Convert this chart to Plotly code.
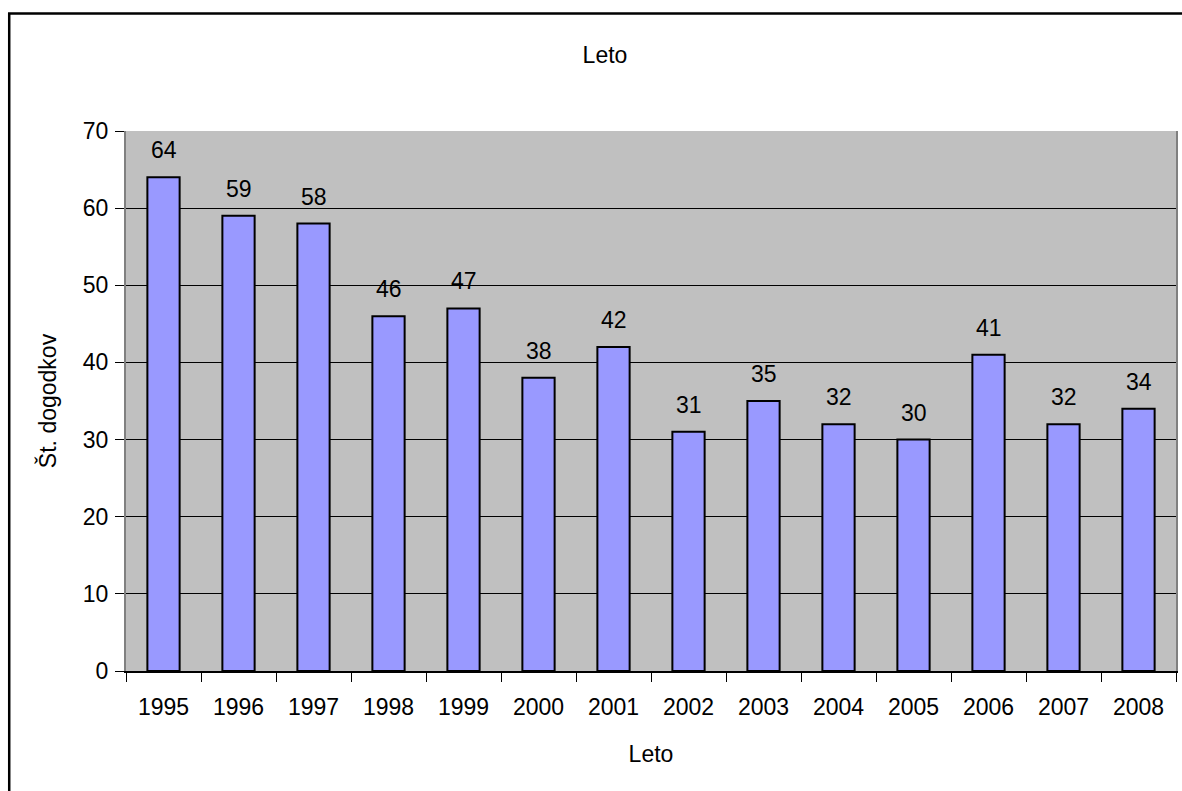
import plotly.graph_objects as go

years = ["1995", "1996", "1997", "1998", "1999", "2000", "2001",
         "2002", "2003", "2004", "2005", "2006", "2007", "2008"]
counts = [64, 59, 58, 46, 47, 38, 42, 31, 35, 32, 30, 41, 32, 34]
y_ticks = [0, 10, 20, 30, 40, 50, 60, 70]

FONT = "Liberation Sans, Arial, sans-serif"
FS = 23

W, H = 1182, 791
L, R, T, B = 126, 4, 131, 120
PW, PH = W - L - R, H - T - B

fig = go.Figure()
fig.add_trace(go.Bar(
    x=years, y=counts,
    marker=dict(color="#9999FF", line=dict(color="black", width=2)),
    width=0.43,
    hoverinfo="x+y",
))

for i, v in enumerate(counts):
    fig.add_annotation(x=i, y=v, text=str(v), showarrow=False,
                       xref="x", yref="y",
                       yanchor="bottom", yshift=12,
                       font=dict(family=FONT, size=FS, color="black"))

# outer chart frame (extends beyond the viewport on right/bottom)
fig.add_shape(type="rect", xref="paper", yref="paper",
              x0=(9 - L) / PW, x1=(W + 20 - L) / PW,
              y0=-(B + 30) / PH, y1=(T - 13.5) / PH + 1,
              line=dict(color="black", width=2.5), fillcolor="rgba(0,0,0,0)",
              layer="below")

fig.update_layout(
    width=W, height=H,
    margin=dict(l=L, r=R, t=T, b=B),
    paper_bgcolor="white",
    plot_bgcolor="#C0C0C0",
    showlegend=False,
    font=dict(family=FONT, size=FS, color="black"),
    title=dict(text="Leto", x=605 / W, xanchor="center",
               y=1 - 55 / H, yanchor="middle",
               font=dict(family=FONT, size=FS, color="black")),
    xaxis=dict(
        type="category",
        title=dict(text="Leto", standoff=27, font=dict(size=FS)),
        tickson="boundaries", ticks="outside", ticklen=9, tickcolor="#000",
        tickwidth=1, ticklabelstandoff=14,
        showline=True, linecolor="black", linewidth=2, mirror=False,
        showgrid=False, range=[-0.5, 13.5],
    ),
    yaxis=dict(
        title=dict(text="Št. dogodkov", standoff=20, font=dict(size=FS)),
        range=[0, 70], tickvals=y_ticks, ticks="outside", ticklen=9,
        tickcolor="#000", tickwidth=1, ticklabelstandoff=2,
        showgrid=True, gridcolor="#000000", gridwidth=1,
        showline=True, linecolor="#808080", linewidth=2, mirror=True,
        zeroline=False,
    ),
    bargap=0.57,
)

fig.write_html(
    "out.html",
    config={"displayModeBar": False},
    post_script="document.body.style.margin='0px';"
                "document.body.style.overflow='hidden';"
                "document.documentElement.style.overflow='hidden';",
)
